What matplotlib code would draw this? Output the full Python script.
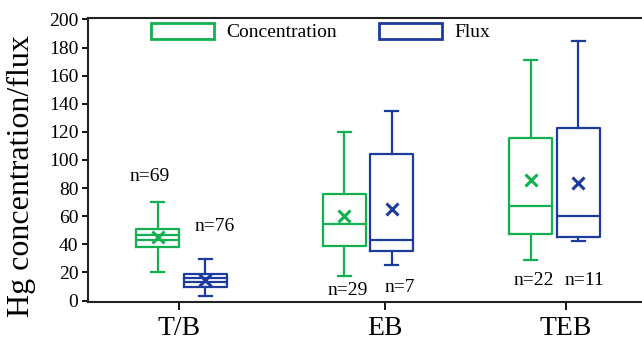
import matplotlib
matplotlib.use("Agg")
import matplotlib.pyplot as plt
from matplotlib.patches import Patch

plt.rcParams['font.family'] = ['Liberation Serif', 'DejaVu Serif']

# Data
groups = ["T/B", "EB", "TEB"]
n_conc = [69, 29, 22]
n_flux = [76, 7, 11]

conc_whislo = [20, 17.5, 29]
conc_q1 = [38, 38.5, 47.5]
conc_med = [43, 54.5, 67]
conc_q3 = [51, 75.5, 116]
conc_whishi = [70, 120, 171]
conc_mean = [45, 60, 85.5]
conc_line2 = [47, None, None]   # extra inner line seen in the T/B box

flux_whislo = [3, 25.5, 42.5]
flux_q1 = [9.5, 35.5, 45]
flux_med = [13, 43, 60]
flux_q3 = [19, 104, 123]
flux_whishi = [29.5, 135, 184.5]
flux_mean = [14.5, 65, 83.5]
flux_line2 = [16, None, None]

green = '#12b04f'
blue = '#1d3b9c'

fig = plt.figure(figsize=(6.42, 3.41), dpi=100)
ax = fig.add_axes([88/642, 39/341, 560/642, 284/341])

pos = [1, 2, 3]
off = 0.127
width = 0.23


def stats(lo, q1, med, q3, hi, mean):
    return [dict(whislo=a, q1=b, med=c, q3=d, whishi=e, mean=f, fliers=[])
            for a, b, c, d, e, f in zip(lo, q1, med, q3, hi, mean)]


def draw(st, positions, color, extra):
    lw = 1.6
    ax.bxp(st, positions=positions, widths=width, showmeans=True,
           capwidths=0.07, manage_ticks=False,
           boxprops=dict(color=color, lw=lw),
           whiskerprops=dict(color=color, lw=lw),
           capprops=dict(color=color, lw=lw),
           medianprops=dict(color=color, lw=lw),
           meanprops=dict(marker='x', markeredgecolor=color, markersize=8, mew=2.2))
    for p, v in zip(positions, extra):
        if v is not None:
            ax.plot([p - width/2, p + width/2], [v, v], color=color, lw=lw)


draw(stats(conc_whislo, conc_q1, conc_med, conc_q3, conc_whishi, conc_mean),
     [p - off for p in pos], green, conc_line2)
draw(stats(flux_whislo, flux_q1, flux_med, flux_q3, flux_whishi, flux_mean),
     [p + off for p in pos], blue, flux_line2)

# sample size labels
conc_lbl_pos = [(0.83, 88), (1.89, 7.5), (2.89, 14)]
flux_lbl_pos = [(1.18, 53), (2.17, 9), (3.16, 14)]
for n, (x, y) in zip(n_conc, conc_lbl_pos):
    ax.text(x, y, f"n={n}", ha='center', va='center', fontsize=14)
for n, (x, y) in zip(n_flux, flux_lbl_pos):
    ax.text(x, y, f"n={n}", ha='center', va='center', fontsize=14)

ax.set_xlim(0.5, 3.5)
ax.set_ylim(-1, 201)
ax.set_yticks(range(0, 201, 20))
ax.set_xticks([0.99, 2.09, 3.06])
ax.set_xticklabels(groups, fontsize=20)
ax.tick_params(axis='y', labelsize=14, length=4, width=1.3, pad=3)
ax.tick_params(axis='x', length=6, width=1.3, pad=4)
for s in ['left', 'bottom', 'top']:
    ax.spines[s].set_linewidth(1.5)
    ax.spines[s].set_color('#222222')
ax.spines['right'].set_visible(False)

ax.set_ylabel("Hg concentration/flux", fontsize=23)
ax.yaxis.set_label_coords(-0.092, 0.445)

handles = [Patch(facecolor='white', edgecolor=green, lw=2, label='Concentration'),
           Patch(facecolor='white', edgecolor=blue, lw=2, label='Flux')]
fig.legend(handles=handles, loc='upper left', bbox_to_anchor=(151/642, 1 - 23/341),
           ncol=2, frameon=False, fontsize=14, handlelength=3.25, handleheight=0.85,
           handletextpad=0.6, columnspacing=2.2, borderpad=0, borderaxespad=0)

fig.savefig("out.png", dpi=100)
